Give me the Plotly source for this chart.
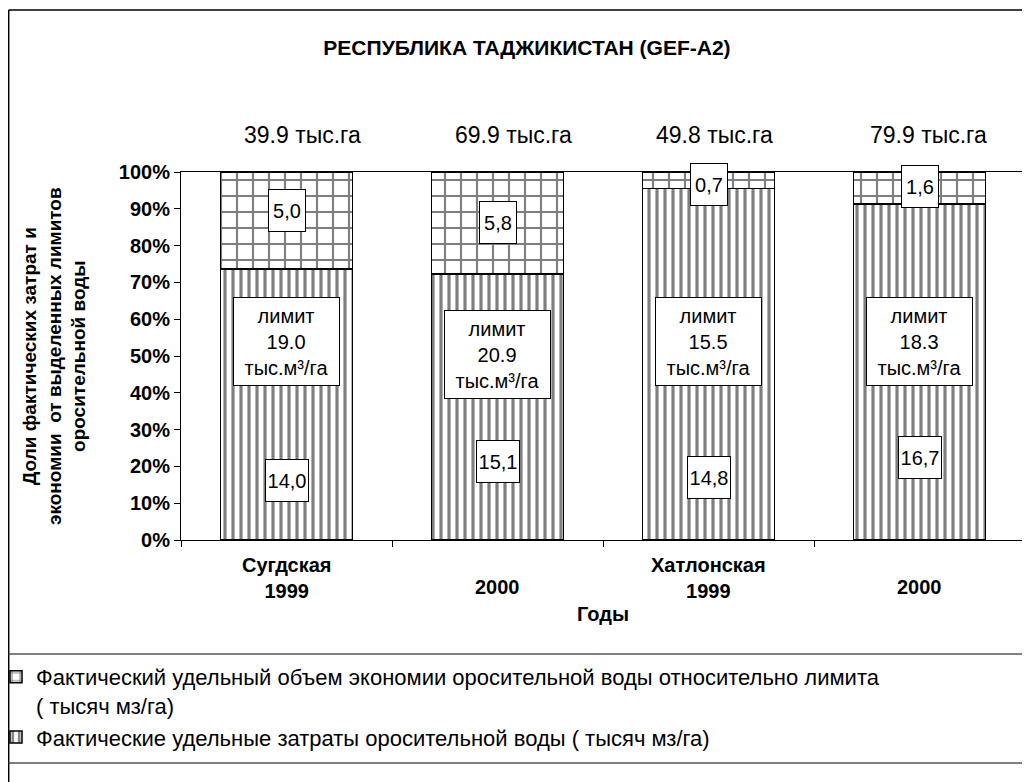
import plotly.graph_objects as go

# data
categories = ["Сугдская 1999", "Сугдская 2000", "Хатлонская 1999", "Хатлонская 2000"]
cat_labels = ["Сугдская<br>1999", "2000", "Хатлонская<br>1999", "2000"]
actual_use = [14.0, 15.1, 14.8, 16.7]   # тыс. м3/га
savings = [5.0, 5.8, 0.7, 1.6]          # тыс. м3/га
limits = [19.0, 20.9, 15.5, 18.3]       # тыс. м3/га
areas = [39.9, 69.9, 49.8, 79.9]        # тыс. га

# the page body adds an 8px margin, so the figure is drawn 8px smaller / shifted
OFF = 8
W, H = 1030 - OFF, 782 - OFF
L, R, T, B = 181 - OFF, 1025 - OFF, 172 - OFF, 540 - OFF


def px(x):
    # screen x (reference picture) -> paper x
    return (x - OFF - L) / (R - L)


def py(y):
    # screen y (reference picture) -> paper y
    return (B - (y - OFF)) / (B - T)


FONT = "Arial, Liberation Sans, sans-serif"

fig = go.Figure()
fig.add_trace(go.Bar(
    x=categories, y=actual_use,
    name="Фактические удельные затраты оросительной воды ( тысяч мз/га)",
    marker=dict(color="white", line=dict(color="black", width=1.5),
                pattern=dict(shape="|", size=8, solidity=0.4,
                             fgcolor="black", bgcolor="white")),
))
fig.add_trace(go.Bar(
    x=categories, y=savings,
    name="Фактический удельный объем экономии оросительной воды относительно лимита<br>( тысяч мз/га)",
    marker=dict(color="white", line=dict(color="black", width=1.5),
                pattern=dict(shape="+", size=16, solidity=0.25,
                             fgcolor="black", bgcolor="white")),
))

# label positions (fraction of bar height / pixel shifts)
top_y = [0.895, 0.864, 0.965, 0.961]
bot_y = [0.163, 0.212, 0.171, 0.223]
lim_y = [0.539, 0.505, 0.54, 0.54]
area_dx = [16, 16, 6, 9]

ann = []
box = dict(bgcolor="white", bordercolor="black", borderwidth=1, borderpad=2,
           font=dict(family=FONT, size=20, color="black"), showarrow=False,
           xref="x", yref="y", xanchor="center", yanchor="middle")
for i, c in enumerate(categories):
    ann.append(dict(x=c, y=top_y[i], text=f"{savings[i]:.1f}".replace(".", ","),
                    width=32, height=37, **box))
    ann.append(dict(x=c, y=bot_y[i], text=f"{actual_use[i]:.1f}".replace(".", ","),
                    width=38, height=37, **box))
    ann.append(dict(x=c, y=lim_y[i], text=f"лимит<br>{limits[i]:.1f}<br>тыс.м³/га",
                    width=101, height=83, **box))
    ann.append(dict(x=c, y=py(135), xref="x", yref="paper", showarrow=False,
                    xanchor="center", yanchor="middle",
                    xshift=area_dx[i], text=f"{areas[i]:.1f} тыс.га",
                    font=dict(family=FONT, size=23, color="black")))
    ann.append(dict(x=c, y=py(578) if "<br>" in cat_labels[i] else py(587),
                    xref="x", yref="paper", showarrow=False,
                    xanchor="center", yanchor="middle", text=cat_labels[i],
                    font=dict(family=FONT, size=20, color="black", weight="bold")))

ann.append(dict(x=0.5, y=py(614), xref="paper", yref="paper", showarrow=False,
                xanchor="center", yanchor="middle",
                text="Годы", font=dict(family=FONT, size=20, color="black", weight="bold")))
ann.append(dict(x=px(54), y=py(356), xref="paper", yref="paper", showarrow=False,
                xanchor="center", yanchor="middle", textangle=-90,
                text="Доли фактических затрат и<br>экономии  от выделенных лимитов<br>оросительной воды",
                font=dict(family=FONT, size=19, color="black", weight="bold")))

# outer frame and legend separators
frame = dict(color="black", width=1.5)
sep = dict(color="#555555", width=1.5)
shapes = [
    dict(type="line", xref="paper", yref="paper", x0=px(8.7), x1=px(1040), y0=py(10), y1=py(10), line=frame),
    dict(type="line", xref="paper", yref="paper", x0=px(8.7), x1=px(8.7), y0=py(10), y1=py(790), line=frame),
    dict(type="line", xref="paper", yref="paper", x0=px(8.7), x1=px(1040), y0=py(654), y1=py(654), line=sep),
    dict(type="line", xref="paper", yref="paper", x0=px(8.7), x1=px(1040), y0=py(763), y1=py(763), line=sep),
]

fig.update_layout(
    width=W, height=H,
    margin=dict(l=L, r=W - R, t=T, b=H - B, autoexpand=False),
    paper_bgcolor="white", plot_bgcolor="white",
    barmode="stack", barnorm="fraction", bargap=0.375,
    title=dict(text="РЕСПУБЛИКА ТАДЖИКИСТАН (GEF-A2)", x=(527 - OFF) / W, xanchor="center",
               y=1 - (48 - OFF) / H, yanchor="middle",
               font=dict(family=FONT, size=21, color="black", weight="bold")),
    font=dict(family=FONT, color="black"),
    xaxis=dict(type="category", showticklabels=False, tickson="boundaries",
               ticks="outside", ticklen=6, tickcolor="black",
               showline=True, linecolor="black", linewidth=1, mirror=True,
               showgrid=False),
    yaxis=dict(range=[0, 1], dtick=0.1, tickformat=".0%", ticks="outside",
               ticklen=6, tickcolor="black", showline=True, linecolor="black",
               linewidth=1, mirror=True, showgrid=False, zeroline=False,
               tickfont=dict(family=FONT, size=20, color="black", weight="bold")),
    legend=dict(xref="container", yref="container", x=0, y=1 - (656 - OFF) / H,
                xanchor="left", yanchor="top", traceorder="reversed",
                valign="top", indentation=-12, itemwidth=30,
                font=dict(family=FONT, size=22, color="black"),
                bgcolor="rgba(0,0,0,0)"),
    annotations=ann, shapes=shapes,
)

fig.write_html("out.html")
